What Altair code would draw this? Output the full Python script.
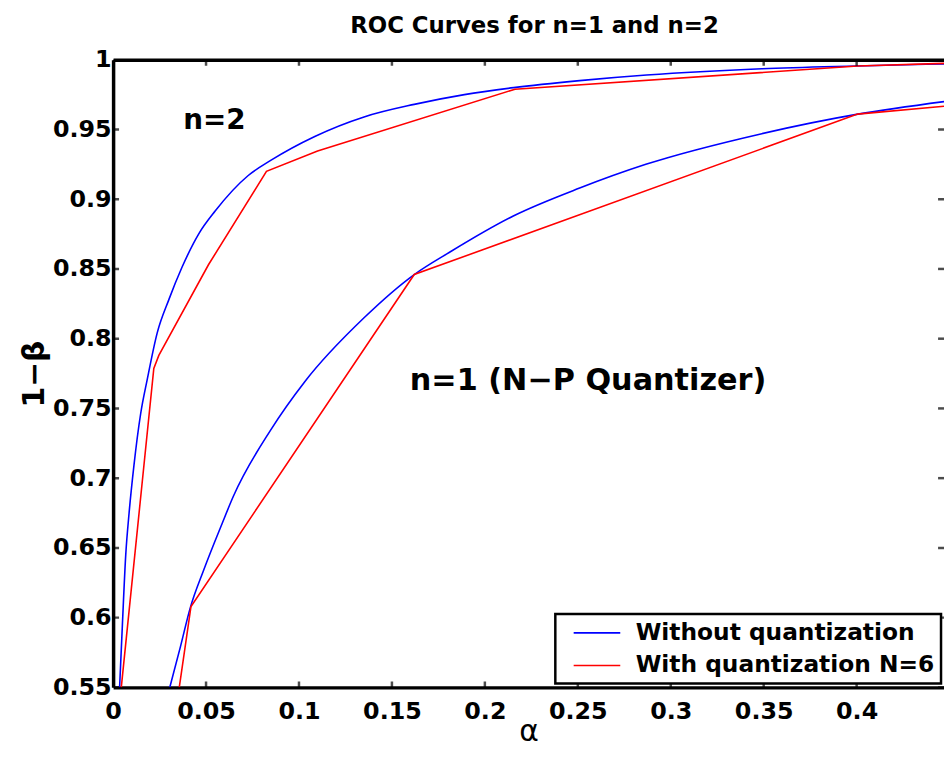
import altair as alt
import pandas as pd

# ---------------- data ----------------
XMAX = 0.447
YMIN = 0.55
YMAX = 1.0

XTICKS = [0, 0.05, 0.1, 0.15, 0.2, 0.25, 0.3, 0.35, 0.4]
YTICKS = [0.55, 0.6, 0.65, 0.7, 0.75, 0.8, 0.85, 0.9, 0.95, 1.0]

SERIES_NAMES = ["Without quantization", "With quantization N=6"]
SERIES_COLORS = ["#0000ff", "#ff0000"]

# n=2, without quantization (blue)
N2_BLUE_X = [0.0035, 0.005, 0.0068, 0.0086, 0.0112, 0.0148, 0.0184, 0.0237, 0.030,
             0.037, 0.046, 0.0549, 0.0727, 0.085, 0.1085, 0.135, 0.162, 0.189,
             0.2155, 0.251, 0.287, 0.349, 0.40, 0.447]
N2_BLUE_Y = [0.55, 0.595, 0.645, 0.675, 0.709, 0.746, 0.771, 0.804, 0.828,
             0.851, 0.875, 0.8915, 0.917, 0.928, 0.945, 0.959, 0.968, 0.975,
             0.980, 0.985, 0.989, 0.9935, 0.9955, 0.997]

# n=2, with quantization N=6 (red)
N2_RED_X = [0.0044, 0.0219, 0.0246, 0.0513, 0.0825, 0.110, 0.2162, 0.4005, 0.447]
N2_RED_Y = [0.55, 0.7786, 0.788, 0.853, 0.920, 0.9345, 0.9789, 0.9955, 0.9974]

# n=1 (N-P quantizer), without quantization (blue)
N1_BLUE_X = [0.0305, 0.0362, 0.0415, 0.0487, 0.0585, 0.0647, 0.085, 0.103, 0.135,
             0.162, 0.181, 0.2153, 0.251, 0.2866, 0.349, 0.4007, 0.447]
N1_BLUE_Y = [0.55, 0.579, 0.607, 0.634, 0.667, 0.687, 0.735, 0.769, 0.815,
             0.846, 0.862, 0.888, 0.908, 0.925, 0.947, 0.961, 0.970]

# n=1 (N-P quantizer), with quantization N=6 (red)
N1_RED_X = [0.0356, 0.0419, 0.162, 0.4005, 0.447]
N1_RED_Y = [0.55, 0.608, 0.846, 0.961, 0.9666]

ANN_TEXT = ["n=2", "n=1 (N\u2212P Quantizer)"]
ANN_X = [0.0545, 0.2555]
ANN_Y = [0.9504, 0.7632]
ANN_SIZE = [28, 30.5]

# ---------------- tables ----------------
rows = []
for curve, name, xs, ys in [
    ("n2_blue", SERIES_NAMES[0], N2_BLUE_X, N2_BLUE_Y),
    ("n2_red", SERIES_NAMES[1], N2_RED_X, N2_RED_Y),
    ("n1_blue", SERIES_NAMES[0], N1_BLUE_X, N1_BLUE_Y),
    ("n1_red", SERIES_NAMES[1], N1_RED_X, N1_RED_Y),
]:
    for i, (xv, yv) in enumerate(zip(xs, ys)):
        rows.append({"curve": curve, "method": name, "x": xv, "y": yv, "i": i})
df = pd.DataFrame(rows)
df_blue = df[df["method"] == SERIES_NAMES[0]]
df_red = df[df["method"] == SERIES_NAMES[1]]

vt = pd.DataFrame({"x": XTICKS + XTICKS,
                   "y": [YMAX] * len(XTICKS) + [YMIN] * len(XTICKS)})
ht = pd.DataFrame({"y": YTICKS + YTICKS,
                   "x": [0.0] * len(YTICKS) + [XMAX] * len(YTICKS)})
ann = pd.DataFrame({"t": ANN_TEXT, "x": ANN_X, "y": ANN_Y, "s": ANN_SIZE})

FONT = "DejaVu Sans"
xs_ = alt.Scale(domain=[0, XMAX], nice=False, zero=False)
ys_ = alt.Scale(domain=[YMIN, YMAX], nice=False, zero=False)

x_bottom = alt.Axis(values=XTICKS, format="~g", ticks=False, grid=False,
                    domain=True, domainColor="black", domainWidth=3.5,
                    labelFont=FONT, labelFontWeight="bold", labelFontSize=24,
                    labelColor="black", labelPadding=12, labelFlush=False,
                    labelOverlap=False, title="\u03b1", titleFont=FONT,
                    titleFontSize=30, titleFontWeight="normal", titleColor="black",
                    titleY=54, titleBaseline="alphabetic")
y_left = alt.Axis(values=YTICKS, format="~g", ticks=False, grid=False,
                  domain=True, domainColor="black", domainWidth=3.5,
                  labelFont=FONT, labelFontWeight="bold", labelFontSize=24,
                  labelColor="black", labelPadding=2, labelOverlap=False,
                  title="1\u2212\u03b2", titleFont=FONT, titleFontSize=30,
                  titleFontWeight="bold", titleColor="black",
                  titleX=-79, titleBaseline="middle")
x_top = alt.Axis(orient="top", labels=False, ticks=False, grid=False,
                 domain=True, domainColor="black", domainWidth=3.5, title=None)

color_enc = alt.Color(
    "method:N",
    scale=alt.Scale(domain=SERIES_NAMES, range=SERIES_COLORS),
    legend=alt.Legend(title=None, orient="none", legendX=446, legendY=559,
                      symbolType="M-2,0L2,0", symbolSize=552,
                      symbolStrokeWidth=1.6, labelFont=FONT,
                      labelFontWeight="bold", labelFontSize=23.5,
                      labelColor="black", labelLimit=500,
                      strokeColor="black", fillColor="white",
                      padding=6, rowPadding=8, labelOffset=26,
                      symbolOffset=23, cornerRadius=0),
)

blue_lines = alt.Chart(df_blue).mark_line(clip=True, strokeWidth=1.6,
                                          interpolate="monotone").encode(
    x=alt.X("x:Q", scale=xs_, axis=x_bottom),
    y=alt.Y("y:Q", scale=ys_, axis=y_left),
    color=color_enc,
    detail="curve:N",
    order="i:Q",
)
red_lines = alt.Chart(df_red).mark_line(clip=True, strokeWidth=1.6).encode(
    x=alt.X("x:Q", scale=xs_, axis=None),
    y=alt.Y("y:Q", scale=ys_, axis=y_left),
    color=color_enc,
    detail="curve:N",
    order="i:Q",
)

vticks = alt.Chart(vt).mark_tick(clip=True, orient="vertical", size=12,
                                 thickness=2.5, color="black").encode(
    x=alt.X("x:Q", scale=xs_, axis=x_top),
    y=alt.Y("y:Q", scale=ys_, axis=y_left),
)
hticks = alt.Chart(ht).mark_tick(clip=True, orient="horizontal", size=12,
                                 thickness=2.5, color="black").encode(
    x=alt.X("x:Q", scale=xs_, axis=None),
    y=alt.Y("y:Q", scale=ys_, axis=y_left),
)
texts = alt.Chart(ann).mark_text(font=FONT, fontWeight="bold", color="black",
                                 align="center", baseline="alphabetic").encode(
    x=alt.X("x:Q", scale=xs_, axis=None),
    y=alt.Y("y:Q", scale=ys_, axis=y_left),
    text="t:N",
    size=alt.Size("s:Q", scale=None, legend=None),
)

chart = alt.layer(blue_lines, red_lines, vticks, hticks, texts).resolve_axis(
    x="independent"
).properties(
    width=838,
    height=633,
    autosize=alt.AutoSizeParams(type="none"),
    padding={"left": 106, "top": 49, "right": 0, "bottom": 61},
    title=alt.TitleParams("ROC Curves for n=1 and n=2", font=FONT, fontSize=23,
                          fontWeight="bold", color="black", anchor="middle",
                          frame="group", offset=10, dx=6),
).configure_view(stroke=None).configure_legend(strokeWidth=2.5)

chart.save("out.html", embed_options={"renderer": "svg", "actions": False})
